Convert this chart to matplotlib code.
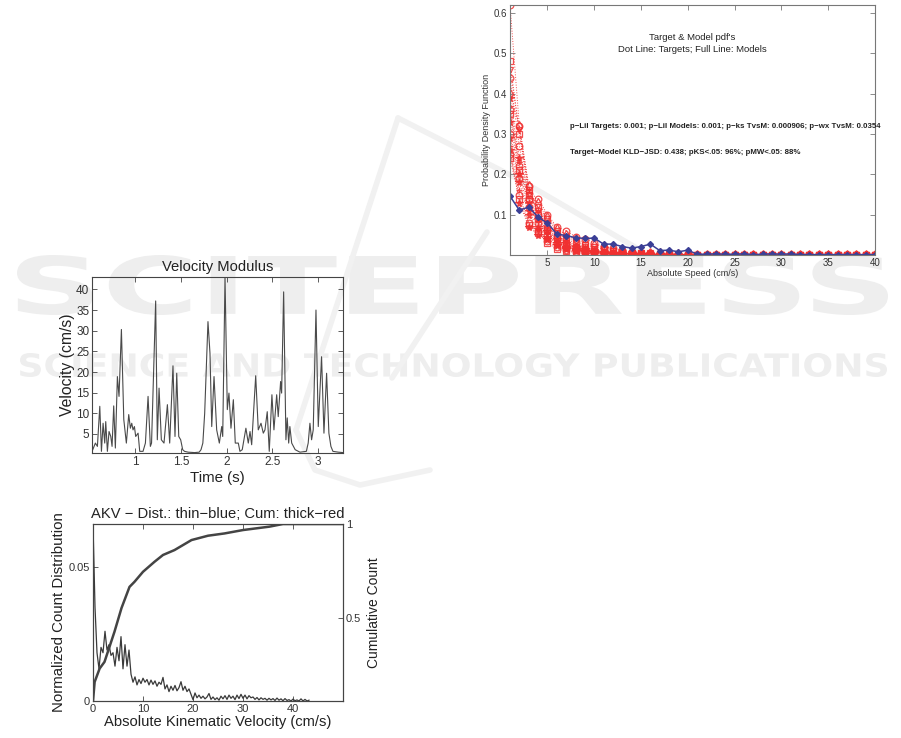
import numpy as np
import matplotlib
matplotlib.use("Agg")
import matplotlib.pyplot as plt
from matplotlib.textpath import TextPath
from matplotlib.font_manager import FontProperties
from matplotlib.patches import PathPatch
from matplotlib.transforms import Affine2D
from matplotlib.lines import Line2D

plt.rcParams['font.family'] = ['Liberation Sans', 'DejaVu Sans']

W, H = 901, 738

# ---- Target & Model pdfs (speed bins 1..40 cm/s) ----
speed_bins = list(range(1, 41))
model_pdf = [0.146, 0.111, 0.119, 0.094, 0.079, 0.052, 0.048, 0.043, 0.041, 0.042,
             0.027, 0.027, 0.021, 0.017, 0.021, 0.027, 0.011, 0.012, 0.008, 0.012,
             0.002, 0.002, 0.003, 0.002, 0.002, 0.003, 0.001, 0.002, 0.003, 0.002,
             0.003, 0.001, 0.001, 0.001, 0.001, 0.001, 0.001, 0.001, 0.001, 0.001]

# targets: bins 1..20, shared tail for bins 21..40
target_pdfs = [
    [0.62, 0.32, 0.17, 0.10, 0.07, 0.05, 0.03, 0.02, 0.015, 0.01, 0.008, 0.006, 0.004, 0.003, 0.003, 0.002, 0.002, 0.001, 0.001, 0.001],
    [0.48, 0.30, 0.16, 0.12, 0.09, 0.06, 0.045, 0.035, 0.025, 0.02, 0.015, 0.01, 0.008, 0.006, 0.004, 0.004, 0.003, 0.002, 0.002, 0.001],
    [0.46, 0.31, 0.15, 0.11, 0.08, 0.055, 0.04, 0.03, 0.02, 0.015, 0.012, 0.009, 0.006, 0.005, 0.004, 0.003, 0.002, 0.002, 0.001, 0.001],
    [0.44, 0.27, 0.14, 0.14, 0.10, 0.07, 0.06, 0.045, 0.04, 0.03, 0.02, 0.018, 0.012, 0.008, 0.006, 0.005, 0.004, 0.003, 0.002, 0.002],
    [0.40, 0.32, 0.17, 0.13, 0.095, 0.065, 0.05, 0.04, 0.03, 0.025, 0.02, 0.015, 0.01, 0.008, 0.006, 0.005, 0.004, 0.003, 0.002, 0.002],
    [0.39, 0.24, 0.13, 0.09, 0.06, 0.04, 0.03, 0.02, 0.015, 0.01, 0.007, 0.005, 0.004, 0.003, 0.002, 0.002, 0.001, 0.001, 0.001, 0.001],
    [0.37, 0.23, 0.16, 0.11, 0.07, 0.05, 0.035, 0.025, 0.018, 0.012, 0.009, 0.007, 0.005, 0.004, 0.003, 0.002, 0.002, 0.001, 0.001, 0.001],
    [0.36, 0.22, 0.12, 0.08, 0.05, 0.03, 0.02, 0.012, 0.008, 0.005, 0.004, 0.003, 0.002, 0.002, 0.001, 0.001, 0.001, 0.001, 0.001, 0.0],
    [0.35, 0.21, 0.15, 0.10, 0.065, 0.045, 0.03, 0.02, 0.014, 0.01, 0.008, 0.006, 0.004, 0.003, 0.003, 0.002, 0.002, 0.001, 0.001, 0.001],
    [0.33, 0.20, 0.11, 0.07, 0.045, 0.03, 0.02, 0.015, 0.01, 0.007, 0.005, 0.004, 0.003, 0.002, 0.002, 0.001, 0.001, 0.001, 0.0, 0.0],
    [0.30, 0.19, 0.14, 0.09, 0.06, 0.04, 0.025, 0.018, 0.012, 0.009, 0.006, 0.005, 0.004, 0.003, 0.002, 0.002, 0.001, 0.001, 0.001, 0.001],
    [0.29, 0.18, 0.10, 0.065, 0.04, 0.025, 0.015, 0.01, 0.007, 0.005, 0.004, 0.003, 0.002, 0.001, 0.001, 0.001, 0.001, 0.0, 0.0, 0.0],
    [0.27, 0.16, 0.12, 0.085, 0.055, 0.035, 0.022, 0.015, 0.01, 0.008, 0.006, 0.004, 0.003, 0.002, 0.002, 0.001, 0.001, 0.001, 0.001, 0.0],
    [0.25, 0.15, 0.08, 0.06, 0.035, 0.02, 0.012, 0.008, 0.005, 0.004, 0.003, 0.002, 0.002, 0.001, 0.001, 0.001, 0.0, 0.0, 0.0, 0.0],
    [0.24, 0.14, 0.075, 0.055, 0.03, 0.015, 0.01, 0.006, 0.004, 0.003, 0.002, 0.002, 0.001, 0.001, 0.001, 0.0, 0.0, 0.0, 0.0, 0.0],
    [0.26, 0.13, 0.07, 0.05, 0.04, 0.025, 0.018, 0.012, 0.009, 0.006, 0.004, 0.003, 0.002, 0.002, 0.001, 0.001, 0.001, 0.0, 0.0, 0.0],
]
target_tail = [0.001, 0.001, 0.0, 0.001, 0.0, 0.001, 0.0, 0.0, 0.001, 0.0,
               0.0, 0.001, 0.0, 0.0, 0.0, 0.001, 0.0, 0.0, 0.0, 0.0]
target_markers = ['o', 's', 'v', 'o', 'd', '*', '+', 'o', 's', '*', 'o', '*', '+', 'o', 's', '*']

# ---- Velocity modulus time series ----
vel_t = [0.538, 0.567, 0.589, 0.615, 0.633, 0.651, 0.669, 0.680, 0.698, 0.716, 0.735, 0.749,
         0.767, 0.785, 0.807, 0.825, 0.851, 0.877, 0.905, 0.931, 0.949, 0.964, 0.978, 0.993,
         1.007, 1.033, 1.051, 1.087, 1.113, 1.142, 1.167, 1.180, 1.225, 1.243, 1.262, 1.287,
         1.316, 1.353, 1.378, 1.414, 1.436, 1.455, 1.477, 1.498, 1.520, 1.540, 1.580, 1.650,
         1.700, 1.720, 1.740, 1.760, 1.796, 1.818, 1.837, 1.862, 1.891, 1.920, 1.946, 1.957,
         1.982, 2.007, 2.025, 2.047, 2.073, 2.094, 2.127, 2.145, 2.170, 2.210, 2.236, 2.255,
         2.273, 2.317, 2.345, 2.375, 2.400, 2.418, 2.443, 2.465, 2.494, 2.516, 2.546, 2.563,
         2.589, 2.600, 2.622, 2.647, 2.661, 2.677, 2.690, 2.710, 2.748, 2.800, 2.870, 2.890,
         2.909, 2.927, 2.945, 2.975, 3.000, 3.036, 3.062, 3.091, 3.116, 3.138, 3.160, 3.220, 3.270]
vel_v = [1.2, 2.8, 2.0, 11.7, 0.8, 7.6, 2.8, 8.0, 0.8, 5.6, 4.4, 2.0,
         11.8, 1.6, 18.9, 14.1, 30.3, 8.5, 2.8, 9.7, 6.4, 7.6, 6.0, 6.8,
         4.4, 5.2, 0.8, 0.8, 2.8, 14.1, 2.0, 2.8, 37.2, 3.6, 16.1, 3.6,
         2.8, 12.1, 2.8, 21.5, 4.4, 19.7, 4.4, 3.6, 1.2, 0.8, 0.6, 0.5,
         0.6, 1.2, 2.8, 10.0, 32.2, 24.5, 6.8, 18.9, 6.0, 2.8, 6.8, 4.4,
         43.0, 10.9, 14.9, 6.4, 13.3, 2.8, 2.8, 0.8, 1.2, 6.4, 2.8, 5.6,
         2.4, 19.1, 6.0, 7.6, 5.2, 6.0, 10.4, 0.8, 14.5, 6.0, 14.5, 9.2,
         17.7, 14.9, 39.4, 3.6, 8.9, 2.8, 6.8, 2.8, 1.2, 0.6, 0.8, 2.8,
         7.6, 3.6, 6.0, 35.0, 6.8, 23.7, 5.2, 19.7, 5.2, 2.0, 0.8, 0.6, 0.5]

# ---- AKV distribution (bin width 0.4 cm/s) and cumulative ----
akv_bin_width = 0.4
akv_dist = [0.066, 0.035, 0.018, 0.012, 0.020, 0.018, 0.026, 0.019, 0.021, 0.017,
            0.018, 0.013, 0.020, 0.015, 0.024, 0.012, 0.021, 0.013, 0.019, 0.010,
            0.007, 0.009, 0.006, 0.008, 0.0065, 0.0085, 0.007, 0.008, 0.006, 0.0078,
            0.0062, 0.0075, 0.0055, 0.007, 0.0062, 0.0088, 0.0045, 0.006, 0.0035, 0.0055,
            0.004, 0.0058, 0.0038, 0.005, 0.0072, 0.004, 0.0055, 0.0035, 0.0045, 0.0025,
            0.0005, 0.003, 0.0012, 0.0022, 0.001, 0.0018, 0.0008, 0.0015, 0.0028, 0.0006,
            0.0015, 0.0005, 0.0012, 0.0003, 0.0018, 0.0008, 0.002, 0.0006, 0.0022, 0.001,
            0.0018, 0.0005, 0.0022, 0.0009, 0.0025, 0.001, 0.0022, 0.0008, 0.002, 0.0012,
            0.0015, 0.0006, 0.0013, 0.0004, 0.0012, 0.0006, 0.001, 0.0003, 0.001, 0.0004,
            0.0009, 0.0002, 0.0011, 0.0003, 0.0008, 0.0001, 0.0009, 0.0002, 0.0005, 0.0,
            0.0007, 0.0001, 0.0004, 0.0, 0.0008, 0.0, 0.0006, 0.0, 0.0003]
cum_x = [0, 0.33, 1.33, 2.3, 4.3, 5.7, 7.3, 8.3, 10, 12.3, 14, 16.3, 19.7, 23, 26.3, 30, 35.3, 38, 50]
cum_y = [0.063, 0.164, 0.235, 0.27, 0.43, 0.555, 0.667, 0.694, 0.747, 0.80, 0.836, 0.862,
         0.915, 0.938, 0.95, 0.968, 0.986, 1.0, 1.0]


def px_axes(left, top, right, bottom):
    return [left / W, 1 - bottom / H, (right - left) / W, (bottom - top) / H]


def matlab_style(ax, color='#555555', labelcolor='#333333', size=8):
    for s in ax.spines.values():
        s.set_color(color)
        s.set_linewidth(0.8)
    ax.tick_params(direction='in', top=True, right=True, length=3.5, width=0.6,
                   color=color, labelcolor=labelcolor, labelsize=size, pad=2)
    ax.set_facecolor('none')


def add_wm_text(fig, text, box, weight):
    path = TextPath((0, 0), text, size=10,
                    prop=FontProperties(family='DejaVu Sans', weight=weight))
    ext = path.get_extents()
    x0, y0, x1, y1 = box
    tr = (Affine2D().translate(-ext.x0, -ext.y0)
          .scale((x1 - x0) / ext.width / W, (y1 - y0) / ext.height / H)
          .translate(x0 / W, 1 - y1 / H)) + fig.transFigure
    fig.add_artist(PathPatch(path, transform=tr, facecolor='#eeeeee',
                             edgecolor='none', zorder=-5))


fig = plt.figure(figsize=(W / 100, H / 100), dpi=100)

# watermark
add_wm_text(fig, "SCITEPRESS", (17, 255, 888, 315), 'bold')
add_wm_text(fig, "SCIENCE AND TECHNOLOGY PUBLICATIONS", (20, 353, 887, 377), 'bold')
swoosh = [
    [(398, 118), (296, 430)],
    [(398, 118), (520, 180), (640, 250)],
    [(487, 232), (392, 378)],
    [(296, 430), (315, 470), (360, 485), (430, 470)],
]
for seg in swoosh:
    xs = [p[0] / W for p in seg]
    ys = [1 - p[1] / H for p in seg]
    fig.add_artist(Line2D(xs, ys, transform=fig.transFigure, color='#f1f1f1',
                          lw=4, zorder=-5, solid_capstyle='round'))

# ---- Top right: Target & Model pdfs ----
ax1 = fig.add_axes(px_axes(510, 5, 875, 255))
matlab_style(ax1, color='#777777', size=7)
for vals, mk in zip(target_pdfs, target_markers):
    y = vals + target_tail
    filled = mk in ('*', '+')
    ax1.plot(speed_bins, y, ls=':', lw=0.7, color='#f03030', alpha=0.85,
             marker=mk, ms=4.8 if mk != '*' else 5.8, mew=0.9,
             mfc='#f03030' if filled else 'none', mec='#f03030')
ax1.plot(speed_bins, model_pdf, '-', color='#3b3f96', lw=1.1, marker='D', ms=3,
         mfc='#3b3f96', mec='#3b3f96')
ax1.set_xlim(1, 40)
ax1.set_ylim(0, 0.62)
ax1.set_xticks([5, 10, 15, 20, 25, 30, 35, 40])
ax1.set_yticks([0.1, 0.2, 0.3, 0.4, 0.5, 0.6])
ax1.set_xlabel('Absolute Speed (cm/s)', fontsize=6.5, color='#333333', labelpad=1)
ax1.set_ylabel('Probability Density Function', fontsize=6.5, color='#333333', labelpad=2)
ax1.text(0.5, 0.868, "Target & Model pdf's", transform=ax1.transAxes,
         ha='center', va='center', fontsize=6.8, color='#222222')
ax1.text(0.5, 0.82, "Dot Line: Targets; Full Line: Models", transform=ax1.transAxes,
         ha='center', va='center', fontsize=6.8, color='#222222')
ax1.text(0.164, 0.512,
         "p\u2212Lil Targets: 0.001; p\u2212Lil Models: 0.001; p\u2212ks TvsM: 0.000906; p\u2212wx TvsM: 0.0354",
         transform=ax1.transAxes, ha='left', va='center', fontsize=5.7,
         fontweight='bold', color='#222222', clip_on=False)
ax1.text(0.164, 0.412,
         "Target\u2212Model KLD\u2212JSD: 0.438; pKS<.05: 96%; pMW<.05: 88%",
         transform=ax1.transAxes, ha='left', va='center', fontsize=5.7,
         fontweight='bold', color='#222222', clip_on=False)

# ---- Velocity Modulus ----
ax2 = fig.add_axes(px_axes(92, 277, 343, 453))
matlab_style(ax2, color='#444444', size=8.5)
ax2.plot(vel_t, vel_v, '-', color='#4a4a4a', lw=0.8)
ax2.set_xlim(0.53, 3.27)
ax2.set_ylim(0.4, 43)
ax2.set_xticks([1, 1.5, 2, 2.5, 3])
ax2.set_xticklabels(['1', '1.5', '2', '2.5', '3'])
ax2.set_yticks([5, 10, 15, 20, 25, 30, 35, 40])
ax2.set_title('Velocity Modulus', fontsize=10.6, color='#222222', pad=4)
ax2.set_xlabel('Time (s)', fontsize=10.8, color='#222222', labelpad=2)
ax2.set_ylabel('Velocity (cm/s)', fontsize=11.3, color='#222222', labelpad=1)

# ---- AKV distribution / cumulative ----
ax3 = fig.add_axes(px_axes(93, 524, 343, 701))
matlab_style(ax3, color='#444444', size=8)
ax3.tick_params(right=False)
akv_x = [i * akv_bin_width for i in range(len(akv_dist))]
ax3.plot(akv_x, akv_dist, '-', color='#3a3a3a', lw=0.9)
ax3.set_xlim(0, 50)
ax3.set_ylim(0, 0.066)
ax3.set_xticks([0, 10, 20, 30, 40])
ax3.set_yticks([0, 0.05])
ax3.set_yticklabels(['0', '0.05'])
ax3.set_title('AKV \u2212 Dist.: thin\u2212blue; Cum: thick\u2212red', fontsize=10.6,
              color='#222222', pad=4)
ax3.set_xlabel('Absolute Kinematic Velocity (cm/s)', fontsize=10.6, color='#222222', labelpad=1)
ax3.set_ylabel('Normalized Count Distribution', fontsize=10.8, color='#222222', labelpad=2)

ax4 = ax3.twinx()
ax4.plot(cum_x, cum_y, '-', color='#444444', lw=1.8)
ax4.set_ylim(0.063, 1.0)
ax4.set_yticks([0.5, 1])
ax4.set_yticklabels(['0.5', '1'])
ax4.tick_params(direction='in', length=3.5, width=0.6, color='#444444',
                labelcolor='#333333', labelsize=8, pad=2)
ax4.set_facecolor('none')
for s in ax4.spines.values():
    s.set_color('#444444')
    s.set_linewidth(0.8)
ax4.set_ylabel('Cumulative Count', fontsize=10, color='#222222', labelpad=4)

fig.savefig('out.png', dpi=100)
